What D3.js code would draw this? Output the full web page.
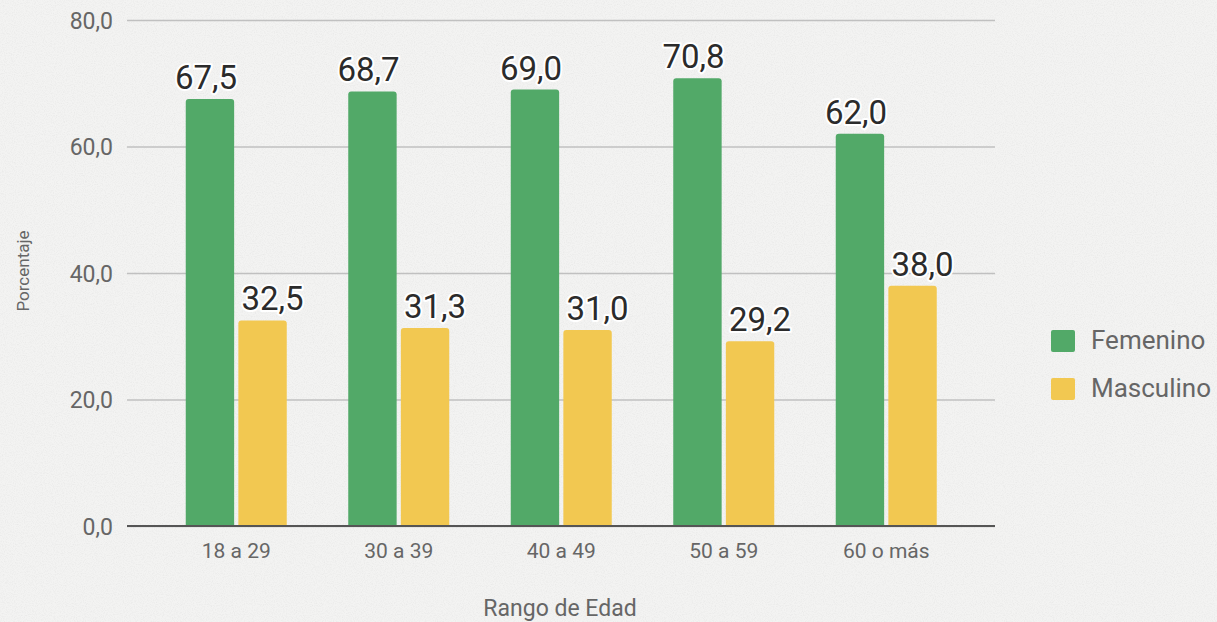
<!DOCTYPE html>
<html><head><meta charset="utf-8">
<script src="https://cdn.jsdelivr.net/npm/d3@7"></script>
<style>
html,body{margin:0;padding:0;background:#f2f2f1;}
svg{display:block;font-family:Roboto,"Noto Sans",sans-serif;}
</style></head>
<body>
<svg id="chart" width="1217" height="622"></svg>
<script>
const categories = ["18 a 29","30 a 39","40 a 49","50 a 59","60 o más"];
const seriesNames = ["Femenino","Masculino"];
const femenino = [67.5, 68.7, 69.0, 70.8, 62.0];
const masculino = [32.5, 31.3, 31.0, 29.2, 38.0];
const yTicks = [0, 20, 40, 60, 80];
const colors = ["#52a968", "#f2c851"];
const labelShift = [-4, 10];

const svg = d3.select("#chart");
const W = 1217, H = 622;
const plotLeft = 127, plotRight = 995, plotTop = 20, plotBottom = 526;

// noise texture background
const defs = svg.append("defs");
const f = defs.append("filter").attr("id","noise").attr("x",0).attr("y",0).attr("width","100%").attr("height","100%");
f.append("feTurbulence").attr("type","fractalNoise").attr("baseFrequency",0.9).attr("numOctaves",2).attr("seed",3).attr("result","t");
f.append("feColorMatrix").attr("type","matrix")
 .attr("values","0 0 0 0 0.55  0 0 0 0 0.55  0 0 0 0 0.55  0 0 0 -1.6 0.95");
svg.append("rect").attr("width",W).attr("height",H).attr("fill","#f3f3f2");
svg.append("rect").attr("width",W).attr("height",H).attr("filter","url(#noise)").attr("opacity",0.25);

const y = d3.scaleLinear().domain([0,80]).range([plotBottom, plotTop]);
const x = d3.scaleBand().domain(categories).range([155, 967.5]).paddingInner(0).paddingOuter(0);
const inner = d3.scaleBand().domain(seriesNames).range([x.bandwidth()/2 - 50.5, x.bandwidth()/2 + 50.5]).paddingInner(0.08);

const fmt = v => d3.format(".1f")(v).replace(".", ",");

// gridlines
const yAxis = d3.axisLeft(y).tickValues(yTicks).tickSize(-(plotRight-plotLeft)).tickFormat(fmt).tickPadding(14);
const gy = svg.append("g").attr("transform",`translate(${plotLeft},0)`).call(yAxis);
gy.select(".domain").remove();
gy.selectAll(".tick line").attr("stroke","#c0c0c0").attr("stroke-width",1.5);
gy.selectAll(".tick text").attr("fill","#666").attr("font-size",23).attr("font-family","Roboto").attr("dy","0.35em");

const data = categories.map((c,i)=>({cat:c, vals:[{s:seriesNames[0],v:femenino[i],k:0},{s:seriesNames[1],v:masculino[i],k:1}]}));

const g = svg.append("g");
const groups = g.selectAll("g.grp").data(data).join("g").attr("class","grp")
  .attr("transform", d=>`translate(${x(d.cat)},0)`);

function topRounded(x0, y0, w, h, r){
  return `M${x0},${y0+h}V${y0+r}Q${x0},${y0} ${x0+r},${y0}H${x0+w-r}Q${x0+w},${y0} ${x0+w},${y0+r}V${y0+h}Z`;
}
groups.selectAll("path.bar").data(d=>d.vals).join("path").attr("class","bar")
  .attr("d", d=>topRounded(inner(d.s), y(d.v), inner.bandwidth(), plotBottom - y(d.v), 3))
  .attr("fill", d=>colors[d.k]);

// zero line
svg.append("line").attr("x1",plotLeft).attr("x2",plotRight).attr("y1",y(0)).attr("y2",y(0))
  .attr("stroke","#555").attr("stroke-width",2);

// value labels
groups.selectAll("text.val").data(d=>d.vals).join("text").attr("class","val")
  .attr("x", d=>inner(d.s)+inner.bandwidth()/2 + labelShift[d.k])
  .attr("y", d=>y(d.v)-10)
  .attr("text-anchor","middle")
  .attr("font-size",33).attr("fill","#2b2b2b")
  .attr("stroke","#fff").attr("stroke-width",4).attr("paint-order","stroke").attr("stroke-linejoin","round")
  .text(d=>fmt(d.v));

// x axis labels
const xAxis = d3.axisBottom(x).tickSize(0).tickPadding(0);
const gx = svg.append("g").attr("transform",`translate(0,${plotBottom})`).call(xAxis);
gx.select(".domain").remove();
gx.selectAll(".tick text").attr("fill","#666").attr("font-size",21).attr("font-family","Roboto")
  .attr("y",32).attr("dy",0);

// axis titles
svg.append("text").attr("x",560).attr("y",616).attr("text-anchor","middle")
  .attr("font-size",23).attr("fill","#666").text("Rango de Edad");
svg.append("text").attr("transform","translate(29,271) rotate(-90)").attr("text-anchor","middle")
  .attr("font-size",17).attr("fill","#666").text("Porcentaje");

// legend
const lg = svg.append("g").attr("transform","translate(1051,330)");
const items = lg.selectAll("g").data(seriesNames).join("g").attr("transform",(d,i)=>`translate(0,${i*48})`);
items.append("rect").attr("width",24).attr("height",22).attr("rx",2).attr("fill",(d,i)=>colors[i]);
items.append("text").attr("x",40).attr("y",19).attr("font-size",26).attr("fill","#666").text(d=>d);
</script>
</body></html>
